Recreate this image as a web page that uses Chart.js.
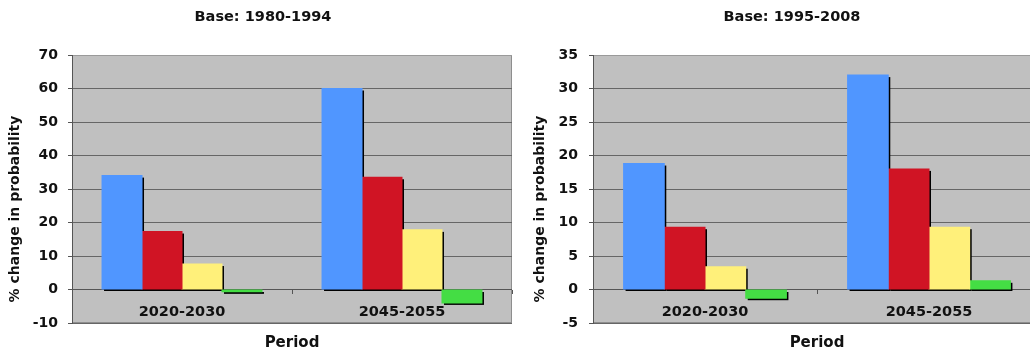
<!DOCTYPE html>
<html><head><meta charset="utf-8">
<script src="https://cdn.jsdelivr.net/npm/chart.js@4"></script>
<style>
html,body{margin:0;padding:0;background:#fff;overflow:hidden;width:1030px;height:354px;}
#l{position:absolute;left:0;top:0;width:526px;height:354px;}
#r{position:absolute;left:528px;top:0;width:528px;height:354px;}
</style></head><body>
<div id="l"><canvas id="c1"></canvas></div>
<div id="r"><canvas id="c2"></canvas></div>
<script>
const categories = ['2020-2030', '2045-2055'];
const leftTitle = 'Base: 1980-1994';
const rightTitle = 'Base: 1995-2008';
const yAxisTitle = '% change in probability';
const xAxisTitle = 'Period';
const leftSeries1 = [34, 60];
const leftSeries2 = [17.3, 33.5];
const leftSeries3 = [7.6, 17.8];
const leftSeries4 = [-0.7, -4];
const rightSeries1 = [18.8, 32];
const rightSeries2 = [9.3, 18];
const rightSeries3 = [3.4, 9.3];
const rightSeries4 = [-1.3, 1.3];
const leftTicks = [-10, 0, 10, 20, 30, 40, 50, 60, 70];
const rightTicks = [-5, 0, 5, 10, 15, 20, 25, 30, 35];
const seriesColors = ['#5096FF', '#D01424', '#FFF07A', '#44DD44'];

const FONT = 'DejaVu Sans';

const plotBg = {
  id: 'plotBg',
  beforeDraw(chart) {
    const a = chart.chartArea, c = chart.ctx;
    c.save();
    c.fillStyle = '#C0C0C0';
    c.fillRect(a.left, a.top, a.right - a.left, a.bottom - a.top);
    c.strokeStyle = '#8e8e8e';
    c.lineWidth = 1;
    c.strokeRect(a.left + 0.5, a.top + 0.5, a.right - a.left - 1, a.bottom - a.top - 1);
    c.restore();
  }
};
// drop shadow behind every bar, using the bar elements laid out by Chart.js
const barShadow = {
  id: 'barShadow',
  beforeDatasetsDraw(chart) {
    const c = chart.ctx, a = chart.chartArea;
    c.save();
    c.beginPath();
    c.rect(a.left, a.top, a.right - a.left, a.bottom - a.top);
    c.clip();
    c.fillStyle = '#000';
    chart.data.datasets.forEach((ds, i) => {
      const meta = chart.getDatasetMeta(i);
      meta.data.forEach(el => {
        const p = el.getProps(['x', 'y', 'base', 'width'], true);
        const top = Math.min(p.y, p.base), bot = Math.max(p.y, p.base);
        c.fillRect(p.x - p.width / 2 + 2, top + 2, p.width, bot - top);
      });
    });
    c.restore();
  }
};
const yTitlePlugin = {
  id: 'yTitle',
  afterDraw(chart, args, opts) {
    const c = chart.ctx;
    c.save();
    c.translate(opts.x, opts.y);
    c.rotate(-Math.PI / 2);
    c.font = 'bold 14px "' + FONT + '"';
    c.fillStyle = '#111';
    c.textAlign = 'center';
    c.textBaseline = 'middle';
    c.fillText(opts.text, 0, 0);
    c.restore();
  }
};

function makeChart(id, title, series, ticks, o) {
  const yMin = ticks[0], yMax = ticks[ticks.length - 1], step = ticks[1] - ticks[0];
  return new Chart(document.getElementById(id), {
    type: 'bar',
    data: {
      labels: categories,
      datasets: series.map((s, i) => ({
        label: 'Series ' + (i + 1),
        data: s,
        backgroundColor: seriesColors[i],
        borderWidth: 0,
        inflateAmount: 0.5,
        barPercentage: 1,
        categoryPercentage: 0.727
      }))
    },
    options: {
      responsive: true,
      maintainAspectRatio: false,
      animation: false,
      layout: { padding: { left: o.sidePad, right: o.sidePad, top: 0, bottom: 0 } },
      plugins: {
        legend: { display: false },
        tooltip: { enabled: false },
        title: {
          display: true, text: title, color: '#111',
          font: { family: FONT, size: 14.5, weight: 'bold' },
          padding: { top: 8.3, bottom: 29.3 }
        },
        subtitle: {
          display: true, text: xAxisTitle, position: 'bottom', fullSize: false, color: '#111',
          font: { family: FONT, size: 15, weight: 'bold' },
          padding: { top: 11, bottom: 2 }
        },
        yTitle: { text: yAxisTitle, x: o.yTitleX, y: 209 }
      },
      scales: {
        x: {
          type: 'category',
          position: { y: 0 },
          grid: { display: true, drawOnChartArea: false, drawTicks: true, tickLength: 4, color: '#555' },
          border: { display: false },
          ticks: { color: '#111', font: { family: FONT, size: 14.5, weight: 'bold' }, padding: 10, maxRotation: 0 }
        },
        y: {
          min: yMin, max: yMax,
          ticks: { stepSize: step, color: '#111', font: { family: FONT, size: 14, weight: 'bold' }, padding: o.tickPad },
          grid: {
            color: (ctx) => (ctx.tick && ctx.tick.value === yMax) ? '#9a9a9a' : (ctx.tick && ctx.tick.value === 0 ? '#555' : '#666'),
            tickColor: '#555', tickLength: 4
          },
          border: { color: '#555' },
          afterFit(scale) { scale.width = o.yWidth; }
        }
      }
    },
    plugins: [plotBg, barShadow, yTitlePlugin]
  });
}

makeChart('c1', leftTitle, [leftSeries1, leftSeries2, leftSeries3, leftSeries4], leftTicks,
  { yWidth: 58, tickPad: 10, yTitleX: 15, sidePad: 14 });
makeChart('c2', rightTitle, [rightSeries1, rightSeries2, rightSeries3, rightSeries4], rightTicks,
  { yWidth: 50, tickPad: 11, yTitleX: 12, sidePad: 15 });
</script>
</body></html>
